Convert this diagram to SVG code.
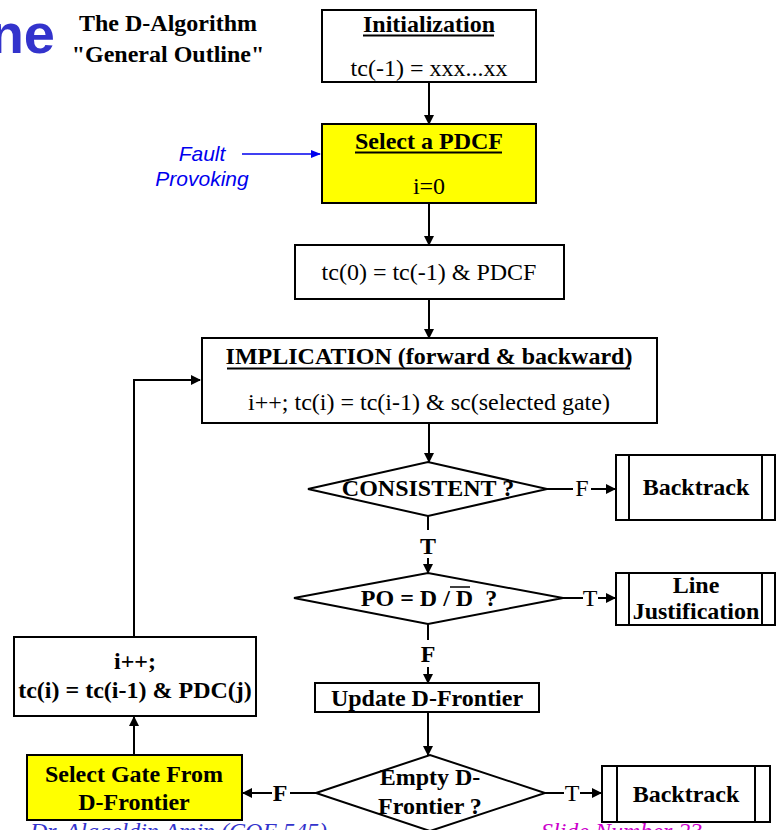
<svg xmlns="http://www.w3.org/2000/svg" width="777" height="830" viewBox="0 0 777 830">
<defs>
<marker id="ah" markerWidth="10" markerHeight="10" refX="9" refY="5" orient="auto" markerUnits="userSpaceOnUse"><path d="M0,0 L10,5 L0,10 z" fill="#000"/></marker>
<marker id="ahb" markerWidth="10" markerHeight="10" refX="9" refY="4" orient="auto" markerUnits="userSpaceOnUse"><path d="M0,0 L10,4 L0,8 z" fill="#0000EE"/></marker>
<style>
.box{fill:#fff;stroke:#000;stroke-width:2}
.yel{fill:#ffff00;stroke:#000;stroke-width:2}
.ln{stroke:#000;stroke-width:2;fill:none}
.ar{stroke:#000;stroke-width:2;fill:none;marker-end:url(#ah)}
.t{font-family:"Liberation Serif","Times New Roman",serif;font-size:24px;fill:#000;text-anchor:middle}
.b{font-weight:bold}
.fp{font-family:"Liberation Sans",Arial,sans-serif;font-style:italic;font-size:21px;fill:#0000EE;text-anchor:middle}
.ft{font-family:"Liberation Serif","Times New Roman",serif;font-style:italic;font-size:24px}
</style>
</defs>
<g id="title">
<text x="55" y="53" font-family="Liberation Sans,Arial,sans-serif" font-weight="bold" font-size="56" fill="#3333CC" text-anchor="end">ne</text>
<text class="t b" x="168" y="31" font-size="28">The D-Algorithm</text>
<text class="t b" x="168" y="62" font-size="28">"General Outline"</text>
</g>
<g id="connectors">
<line class="ar" x1="429" y1="82" x2="429" y2="124"/>
<line class="ar" x1="429" y1="203" x2="429" y2="245"/>
<line class="ar" x1="429" y1="299" x2="429" y2="338"/>
<line class="ar" x1="429" y1="423" x2="429" y2="462"/>
<line class="ln" x1="547" y1="489" x2="573" y2="489"/>
<text class="t" x="582" y="496" font-size="21">F</text>
<line class="ar" x1="591" y1="489" x2="615" y2="489"/>
<line class="ln" x1="428" y1="516" x2="428" y2="530"/>
<text class="t b" x="428" y="554" font-size="21">T</text>
<line class="ar" x1="428" y1="558" x2="428" y2="573"/>
<line class="ln" x1="563" y1="598" x2="583" y2="598"/>
<text class="t" x="590" y="606" font-size="21">T</text>
<line class="ar" x1="598" y1="598" x2="615" y2="598"/>
<line class="ln" x1="428" y1="624" x2="428" y2="640"/>
<text class="t b" x="428" y="662" font-size="21">F</text>
<line class="ar" x1="428" y1="667" x2="428" y2="683"/>
<line class="ar" x1="428" y1="712" x2="428" y2="755"/>
<line class="ln" x1="545" y1="793" x2="564" y2="793"/>
<text class="t" x="572" y="801" font-size="21">T</text>
<line class="ar" x1="580" y1="793" x2="601" y2="793"/>
<line class="ln" x1="316" y1="793" x2="290" y2="793"/>
<text class="t b" x="280" y="801" font-size="21">F</text>
<line class="ar" x1="272" y1="793" x2="243" y2="793"/>
<line class="ar" x1="134" y1="755" x2="134" y2="717"/>
<polyline class="ar" points="134,637 134,380 200,380"/>
<line x1="242" y1="154" x2="320" y2="154" stroke="#0000EE" stroke-width="1.5" marker-end="url(#ahb)"/>
</g>
<g id="fault-label">
<text class="fp" x="202" y="161">Fault</text>
<text class="fp" x="202" y="186">Provoking</text>
</g>
<g id="init">
<rect class="box" x="322" y="10" width="214" height="72"/>
<text class="t b" x="429" y="32">Initialization</text>
<line x1="363" y1="35.5" x2="494" y2="35.5" stroke="#000" stroke-width="2"/>
<text class="t" x="429" y="76">tc(-1) = xxx...xx</text>
</g>
<g id="select-pdcf">
<rect class="yel" x="322" y="124" width="214" height="79"/>
<text class="t b" x="429" y="149">Select a PDCF</text>
<line x1="355" y1="152.5" x2="502" y2="152.5" stroke="#000" stroke-width="2"/>
<text class="t" x="429" y="194">i=0</text>
</g>
<g id="tc0">
<rect class="box" x="295" y="245" width="269" height="54"/>
<text class="t" x="429" y="280">tc(0) = tc(-1) &amp; PDCF</text>
</g>
<g id="implication">
<rect class="box" x="202" y="338" width="455" height="85"/>
<text class="t b" x="429" y="364">IMPLICATION (forward &amp; backward)</text>
<line x1="227" y1="368.5" x2="630" y2="368.5" stroke="#000" stroke-width="2"/>
<text class="t" x="429" y="410">i++; tc(i) = tc(i-1) &amp; sc(selected gate)</text>
</g>
<g id="consistent">
<polygon class="box" points="308,489 428,462 547,489 428,516"/>
<text class="t b" x="428" y="496" font-size="19">CONSISTENT ?</text>
</g>
<g id="backtrack1">
<rect class="box" x="616" y="455" width="159" height="65"/>
<line class="ln" x1="629" y1="455" x2="629" y2="520"/>
<line class="ln" x1="762" y1="455" x2="762" y2="520"/>
<text class="t b" x="696" y="495">Backtrack</text>
</g>
<g id="po">
<polygon class="box" points="294,598 428,573 563,598 428,624"/>
<text class="t b" x="429" y="606" font-size="23" xml:space="preserve">PO = D / D  ?</text>
<line x1="450" y1="587" x2="470" y2="587" stroke="#000" stroke-width="1.5"/>
</g>
<g id="line-just">
<rect class="box" x="616" y="573" width="159" height="52"/>
<line class="ln" x1="629" y1="573" x2="629" y2="625"/>
<line class="ln" x1="762" y1="573" x2="762" y2="625"/>
<text class="t b" x="696" y="593">Line</text>
<text class="t b" x="696" y="619">Justification</text>
</g>
<g id="update">
<rect class="box" x="315" y="683" width="224" height="29"/>
<text class="t b" x="427" y="706">Update D-Frontier</text>
</g>
<g id="empty">
<polygon class="box" points="316,793 430,755 545,793 430,831"/>
<text class="t b" x="430" y="785">Empty D-</text>
<text class="t b" x="430" y="814">Frontier ?</text>
</g>
<g id="backtrack2">
<rect class="box" x="602" y="766" width="168" height="56"/>
<line class="ln" x1="617" y1="766" x2="617" y2="822"/>
<line class="ln" x1="755" y1="766" x2="755" y2="822"/>
<text class="t b" x="686" y="802">Backtrack</text>
</g>
<g id="select-gate">
<rect class="yel" x="27" y="755" width="215" height="65"/>
<text class="t b" x="134" y="782">Select Gate From</text>
<text class="t b" x="134" y="810">D-Frontier</text>
</g>
<g id="ipp">
<rect class="box" x="14" y="637" width="242" height="79"/>
<text class="t b" x="135" y="669">i++;</text>
<text class="t b" x="135" y="698">tc(i) = tc(i-1) &amp; PDC(j)</text>
</g>
<g id="footer">
<text class="ft" x="30" y="839" fill="#3333CC">Dr. Alaaeldin Amin (COE 545)</text>
<text class="ft" x="541" y="839" fill="#CC00CC">Slide Number 23</text>
</g>
</svg>
